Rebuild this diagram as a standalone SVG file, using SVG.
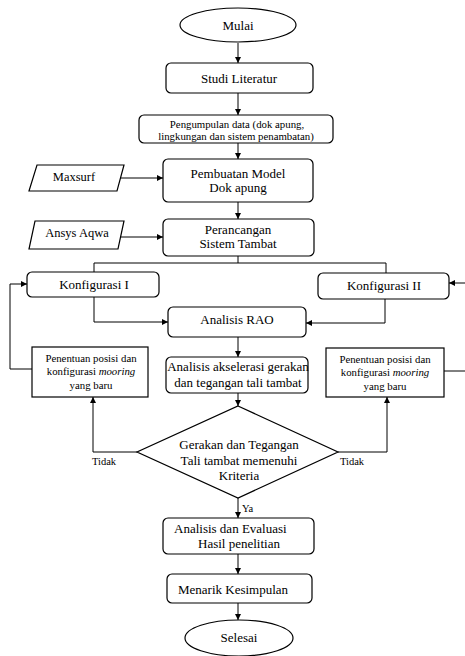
<svg xmlns="http://www.w3.org/2000/svg" width="465" height="656" viewBox="0 0 465 656">
<style>
.b{fill:#fff;stroke:#000;stroke-width:1.2}
.t{font-family:"Liberation Serif","Times New Roman",serif;fill:#000;font-size:13px;text-anchor:middle;dominant-baseline:central}
.s{font-size:10.8px}
.l{font-size:10.5px;text-anchor:start}
.c{fill:none;stroke:#000;stroke-width:1}
</style>
<defs>
<marker id="a" viewBox="0 0 10 10" refX="10" refY="5" markerWidth="6" markerHeight="6" markerUnits="userSpaceOnUse" orient="auto">
<path d="M0,0 L10,5 L0,10 Z" fill="#000"/>
</marker>
</defs>
<rect width="465" height="656" fill="#fff"/>
<g id="connectors">
<path class="c" d="M238,43 V63" marker-end="url(#a)"/>
<path class="c" d="M238,93 V115" marker-end="url(#a)"/>
<path class="c" d="M238,143 V159" marker-end="url(#a)"/>
<path class="c" d="M121,178 H163" marker-end="url(#a)"/>
<path class="c" d="M238,202 V219" marker-end="url(#a)"/>
<path class="c" d="M120,237 H163" marker-end="url(#a)"/>
<path class="c" d="M238,256 V263 M94,272 V263 H386 V273"/>
<path class="c" d="M94,297 V322 H168" marker-end="url(#a)"/>
<path class="c" d="M385,299 V323 H306" marker-end="url(#a)"/>
<path class="c" d="M238,337 V357" marker-end="url(#a)"/>
<path class="c" d="M238,393 V406" marker-end="url(#a)"/>
<path class="c" d="M137,452 H93 V397" marker-end="url(#a)"/>
<path class="c" d="M338,452 H387 V397" marker-end="url(#a)"/>
<path class="c" d="M32,369 H10 V284 H27" marker-end="url(#a)"/>
<path class="c" d="M444,371 H466 V283 H449" marker-end="url(#a)"/>
<path class="c" d="M238,498 V518" marker-end="url(#a)"/>
<path class="c" d="M238,554 V574" marker-end="url(#a)"/>
<path class="c" d="M238,603 V620" marker-end="url(#a)"/>
</g>
<g id="mulai">
<ellipse class="b" cx="238" cy="25" rx="58" ry="17"/>
<text class="t" x="238" y="25">Mulai</text>
</g>
<g id="studi">
<rect class="b" x="166" y="63" width="147" height="30" rx="5"/>
<text class="t" x="239" y="78">Studi Literatur</text>
</g>
<g id="pengumpulan">
<rect class="b" x="139" y="115" width="194" height="28" rx="5"/>
<text class="t s" x="237" y="124">Pengumpulan data (dok apung,</text>
<text class="t s" x="236" y="136">lingkungan dan sistem penambatan)</text>
</g>
<g id="maxsurf">
<polygon class="b" points="37,165 124,165 117,191 29,191"/>
<text class="t" x="74" y="177" style="font-size:12.5px">Maxsurf</text>
</g>
<g id="pembuatan">
<rect class="b" x="163" y="159" width="150" height="43" rx="5"/>
<text class="t" x="238" y="173">Pembuatan Model</text>
<text class="t" x="238" y="187">Dok apung</text>
</g>
<g id="ansys">
<polygon class="b" points="35,221 124,221 118,249 29,249"/>
<text class="t" x="77" y="233" style="font-size:12.5px">Ansys Aqwa</text>
</g>
<g id="perancangan">
<rect class="b" x="163" y="219" width="151" height="37" rx="5"/>
<text class="t" x="238" y="229">Perancangan</text>
<text class="t" x="238" y="243">Sistem Tambat</text>
</g>
<g id="konfig1">
<rect class="b" x="27" y="272" width="132" height="25" rx="5"/>
<text class="t" x="94" y="284">Konfigurasi I</text>
</g>
<g id="konfig2">
<rect class="b" x="318" y="273" width="131" height="26" rx="5"/>
<text class="t" x="384" y="285">Konfigurasi II</text>
</g>
<g id="rao">
<rect class="b" x="168" y="307" width="138" height="30" rx="5"/>
<text class="t" x="237" y="319">Analisis RAO</text>
</g>
<g id="akselerasi">
<rect class="b" x="166" y="357" width="142" height="36" rx="5"/>
<text class="t" x="238" y="366">Analisis akselerasi gerakan</text>
<text class="t" x="238" y="382">dan tegangan tali tambat</text>
</g>
<g id="penentuan1">
<rect class="b" x="32" y="347" width="116" height="50"/>
<text class="t s" x="91" y="358">Penentuan posisi dan</text>
<text class="t s" x="91" y="371">konfigurasi <tspan font-style="italic">mooring</tspan></text>
<text class="t s" x="91" y="385">yang baru</text>
</g>
<g id="penentuan2">
<rect class="b" x="326" y="348" width="118" height="49"/>
<text class="t s" x="385" y="359">Penentuan posisi dan</text>
<text class="t s" x="385" y="372">konfigurasi <tspan font-style="italic">mooring</tspan></text>
<text class="t s" x="385" y="386">yang baru</text>
</g>
<g id="kriteria">
<polygon class="b" points="238,406 338,452 238,498 137,452"/>
<text class="t" x="239" y="444">Gerakan dan Tegangan</text>
<text class="t" x="239" y="460">Tali tambat memenuhi</text>
<text class="t" x="239" y="475">Kriteria</text>
</g>
<g id="labels">
<text class="t l" x="92" y="461">Tidak</text>
<text class="t l" x="340" y="461">Tidak</text>
<text class="t l" x="242" y="508">Ya</text>
</g>
<g id="evaluasi">
<rect class="b" x="163" y="518" width="151" height="36" rx="5"/>
<text class="t" x="174" y="528" style="text-anchor:start">Analisis dan Evaluasi</text>
<text class="t" x="198" y="543" style="text-anchor:start">Hasil penelitian</text>
</g>
<g id="kesimpulan">
<rect class="b" x="167" y="574" width="145" height="29" rx="5"/>
<text class="t" x="178" y="589" style="text-anchor:start">Menarik Kesimpulan</text>
</g>
<g id="selesai">
<ellipse class="b" cx="239" cy="638" rx="54" ry="18"/>
<text class="t" x="239" y="637">Selesai</text>
</g>
</svg>
